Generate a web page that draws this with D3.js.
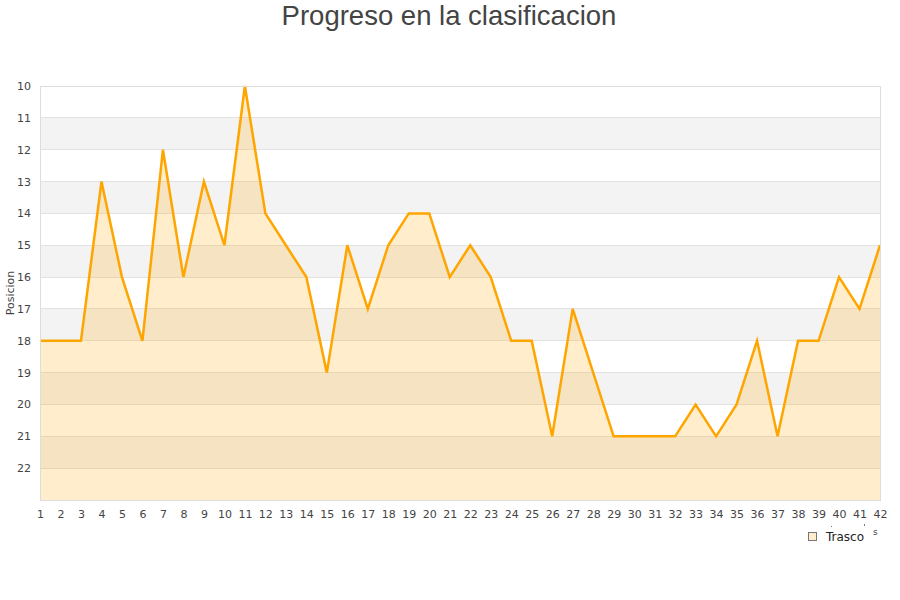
<!DOCTYPE html>
<html><head><meta charset="utf-8">
<script src="https://cdn.jsdelivr.net/npm/d3@7"></script>
<style>body{margin:0;background:#fff}svg{display:block}</style>
</head><body>
<svg id="c" width="900" height="600"></svg>
<script>
const jornadas = d3.range(1, 43);
const posiciones = [18,18,18,13,16,18,12,16,13,15,10,14,15,16,19,15,17,15,14,14,16,15,16,18,18,21,17,19,21,21,21,21,20,21,20,18,21,18,18,16,17,15];
const yTicks = [10,11,12,13,14,15,16,17,18,19,20,21,22];
const seriesName = "Trasco";
const titulo = "Progreso en la clasificacion";
const yLabel = "Posicion";

const svg = d3.select("#c");
const m = {l:40, r:20, t:86, b:100};
const W = 900, H = 600;
const x = d3.scaleLinear().domain([1,42]).range([m.l, W-m.r]);
const y = d3.scaleLinear().domain([10,23]).range([m.t, H-m.b]);

// bands
const bands = d3.range(10,23);
svg.selectAll("rect.band").data(bands).enter().append("rect")
  .attr("x", m.l).attr("width", W-m.r-m.l)
  .attr("y", d=>y(d)).attr("height", d=>y(d+1)-y(d))
  .attr("fill", d=> (d%2===1) ? "#f3f3f3" : "#ffffff");
svg.selectAll("line.grid").data(yTicks).enter().append("line")
  .attr("x1", m.l).attr("x2", W-m.r).attr("y1", d=>y(d)).attr("y2", d=>y(d))
  .attr("stroke", "#e2e2e2").attr("stroke-width",1).attr("shape-rendering","crispEdges");

const area = d3.area().x((d,i)=>x(jornadas[i])).y0(y(23)).y1(d=>y(d));
const line = d3.line().x((d,i)=>x(jornadas[i])).y(d=>y(d));
svg.append("path").datum(posiciones).attr("d", area).attr("fill","rgba(255,165,0,0.2)");
svg.append("path").datum(posiciones).attr("d", line).attr("fill","none")
  .attr("stroke","#ffa500").attr("stroke-width",2.5).attr("stroke-linejoin","miter");

// frame
svg.append("rect").attr("x", m.l).attr("y", m.t).attr("width", W-m.r-m.l).attr("height", y(23)-m.t)
  .attr("fill","none").attr("stroke","#dddddd").attr("shape-rendering","crispEdges");

// axes
const yAxis = d3.axisLeft(y).tickValues(yTicks).tickSize(0).tickPadding(9);
const gy = svg.append("g").attr("transform",`translate(${m.l},0)`).call(yAxis);
gy.select(".domain").remove();
gy.selectAll("text").attr("font-family","DejaVu Sans").attr("font-size",11).attr("fill","#444");

const xAxis = d3.axisBottom(x).tickValues(jornadas).tickSize(0).tickPadding(10);
const gx = svg.append("g").attr("transform",`translate(0,${y(23)})`).call(xAxis);
gx.select(".domain").remove();
gx.selectAll("text").attr("font-family","DejaVu Sans").attr("font-size",11).attr("fill","#444");

svg.append("text").attr("x",449).attr("y",25).attr("text-anchor","middle")
  .attr("font-family","Liberation Sans, Arial, sans-serif").attr("font-size",27.5).attr("fill","#444").text(titulo);
svg.append("text").attr("transform","translate(14,293) rotate(-90)").attr("text-anchor","middle")
  .attr("font-family","DejaVu Sans").attr("font-size",11).attr("fill","#444").text(yLabel);

// legend
svg.append("rect").attr("x",808.5).attr("y",532.5).attr("width",8).attr("height",8)
  .attr("fill","#ffedcc").attr("stroke","#777");
svg.append("text").attr("x",826).attr("y",541).attr("font-family","DejaVu Sans").attr("font-size",12).attr("fill","#222").text(seriesName);
svg.append("text").attr("x",873).attr("y",535).attr("font-family","DejaVu Sans").attr("font-size",9).attr("fill","#444").text("s");
svg.append("rect").attr("x",831).attr("y",526).attr("width",1).attr("height",1).attr("fill","#777");
svg.append("rect").attr("x",864).attr("y",524).attr("width",1).attr("height",2).attr("fill","#777");
</script>
</body></html>
